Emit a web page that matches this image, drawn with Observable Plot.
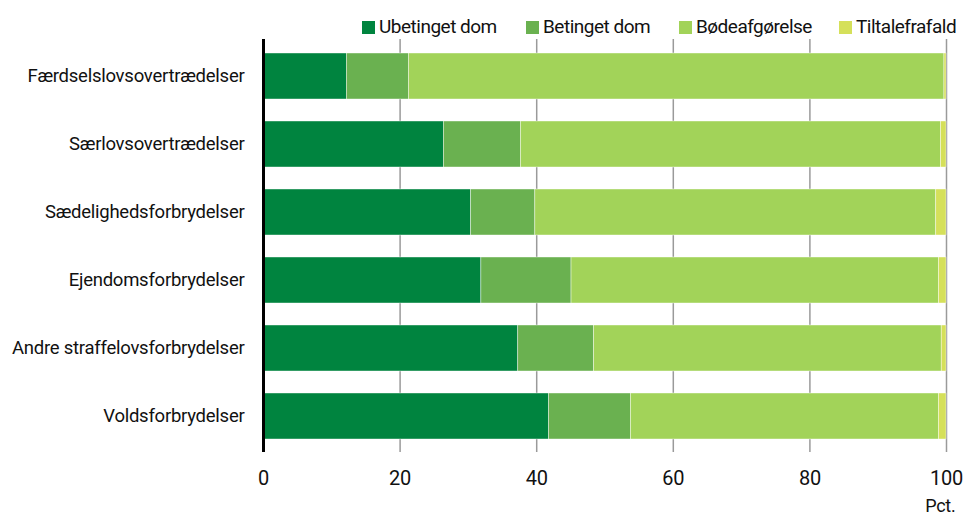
<!DOCTYPE html>
<html>
<head>
<meta charset="utf-8">
<script src="https://cdn.jsdelivr.net/npm/d3@7"></script>
<script src="https://cdn.jsdelivr.net/npm/@observablehq/plot@0.6"></script>
<style>
  html, body { margin: 0; padding: 0; background: #fff; }
  body { width: 966px; height: 516px; overflow: hidden; font-family: Roboto, "Liberation Sans", sans-serif; }
  #legend { position: relative; height: 38px; }
  .item { position: absolute; top: 14px; display: flex; align-items: center; font-size: 19px; letter-spacing: -0.5px; color: #111; line-height: 26px; }
  .sw { width: 13px; height: 13px; margin-right: 4px; }
</style>
</head>
<body>
<div id="legend"></div>
<div id="chart"></div>
<script>
const categories = [
  "Færdselslovsovertrædelser",
  "Særlovsovertrædelser",
  "Sædelighedsforbrydelser",
  "Ejendomsforbrydelser",
  "Andre straffelovsforbrydelser",
  "Voldsforbrydelser"
];
const seriesNames = ["Ubetinget dom", "Betinget dom", "Bødeafgørelse", "Tiltalefrafald"];
const seriesColors = ["#00843f", "#6ab150", "#a2d359", "#d5e05a"];
const ubetinget   = [12.2, 26.4, 30.4, 31.9, 37.3, 41.8];
const betinget    = [ 9.1, 11.3,  9.4, 13.2, 11.1, 12.0];
const boede       = [78.4, 61.5, 58.7, 53.8, 50.9, 45.1];
const tiltale     = [ 0.3,  0.8,  1.5,  1.1,  0.7,  1.1];
const xTicks = [0, 20, 40, 60, 80, 100];
const xLabel = "Pct.";

const seriesValues = [ubetinget, betinget, boede, tiltale];
const data = [];
seriesNames.forEach((s, si) => {
  categories.forEach((c, ci) => {
    data.push({category: c, series: s, value: seriesValues[si][ci]});
  });
});

// Legend
const legendLefts = [362, 526, 679, 839];
const legend = document.getElementById("legend");
seriesNames.forEach((s, i) => {
  const it = document.createElement("div");
  it.className = "item";
  it.style.left = legendLefts[i] + "px";
  const sw = document.createElement("span");
  sw.className = "sw";
  sw.style.background = seriesColors[i];
  const t = document.createElement("span");
  t.textContent = s;
  it.appendChild(sw);
  it.appendChild(t);
  legend.appendChild(it);
});

const chart = Plot.plot({
  width: 966,
  height: 478,
  marginTop: 1,
  marginBottom: 64,
  marginLeft: 263,
  marginRight: 20,
  style: {fontFamily: "Roboto, Liberation Sans, sans-serif", fontSize: "19px", color: "#111", background: "#fff", letterSpacing: "-0.25px"},
  x: {domain: [0, 100], ticks: xTicks, label: null},
  y: {domain: categories, paddingInner: 0.327, paddingOuter: 0.187, label: null},
  color: {domain: seriesNames, range: seriesColors},
  marks: [
    Plot.gridX(xTicks.filter(d => d > 0), {stroke: "#9a9a9a", strokeOpacity: 1, strokeWidth: 1.5}),
    Plot.barX(data, Plot.stackX({
      y: "category", x: "value", fill: "series", order: seriesNames,
      stroke: "#fff", strokeWidth: 0.6, strokeOpacity: 0.7
    })),
    Plot.ruleX([0], {stroke: "#000", strokeWidth: 3}),
    Plot.axisX(xTicks, {tickSize: 0, tickPadding: 18, fontSize: 20, label: null}),
    Plot.axisY({tickSize: 0, tickPadding: 19, fontSize: 18.5, label: null}),
    Plot.text([xLabel], {frameAnchor: "bottom-right", dy: 54, dx: 9, textAnchor: "end", lineAnchor: "middle", fontSize: 18})
  ]
});
document.getElementById("chart").appendChild(chart);
</script>
</body>
</html>
